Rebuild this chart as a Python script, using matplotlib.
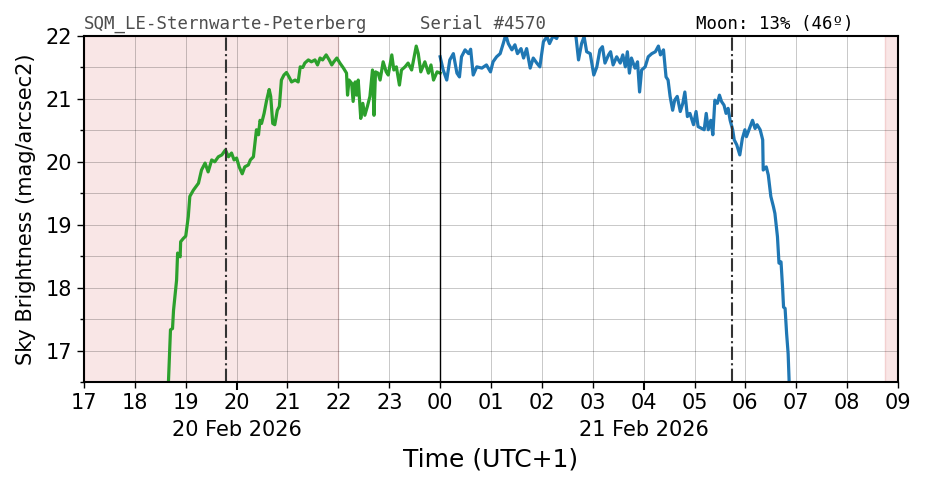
import matplotlib
matplotlib.use("Agg")
import matplotlib.pyplot as plt
from matplotlib.ticker import MultipleLocator, FixedLocator

# hours since 00:00 on 20 Feb (UTC+1)
green_t = [18.66, 18.70, 18.74, 18.76, 18.82, 18.84, 18.89, 18.90, 18.95, 19.00,
           19.05, 19.08, 19.15, 19.25, 19.31, 19.38, 19.44, 19.51, 19.57, 19.64,
           19.71, 19.78, 19.84, 19.90, 19.95, 20.00, 20.05, 20.11, 20.16, 20.23,
           20.27, 20.33, 20.39, 20.43, 20.46, 20.49, 20.54, 20.59, 20.64, 20.67,
           20.71, 20.75, 20.80, 20.84, 20.88, 20.93, 20.98, 21.03, 21.08, 21.15,
           21.21, 21.25, 21.30, 21.34, 21.41, 21.47, 21.54, 21.59, 21.64, 21.69,
           21.76, 21.82, 21.87, 21.91, 21.97, 22.03, 22.10, 22.16, 22.18, 22.21,
           22.26, 22.29, 22.33, 22.36, 22.39, 22.44, 22.48, 22.52, 22.57, 22.62,
           22.67, 22.70, 22.73, 22.78, 22.82, 22.88, 22.94, 22.98, 23.05, 23.09,
           23.14, 23.20, 23.24, 23.31, 23.37, 23.44, 23.53, 23.57, 23.62, 23.70,
           23.77, 23.82, 23.87, 23.94, 24.00]
green_m = [16.50, 17.33, 17.35, 17.64, 18.12, 18.55, 18.49, 18.73, 18.78, 18.82,
           19.13, 19.45, 19.55, 19.66, 19.87, 19.98, 19.84, 20.03, 20.00, 20.08,
           20.11, 20.19, 20.08, 20.14, 20.03, 20.06, 19.92, 19.81, 19.92, 19.95,
           20.03, 20.08, 20.51, 20.43, 20.66, 20.61, 20.77, 20.98, 21.15, 21.04,
           20.61, 20.59, 20.82, 20.88, 21.30, 21.38, 21.42, 21.35, 21.27, 21.30,
           21.27, 21.51, 21.50, 21.57, 21.62, 21.59, 21.62, 21.54, 21.65, 21.62,
           21.70, 21.62, 21.54, 21.59, 21.65, 21.57, 21.49, 21.41, 21.06, 21.30,
           21.25, 20.96, 21.27, 21.06, 21.30, 20.69, 20.93, 20.74, 20.88, 21.04,
           21.46, 20.74, 21.43, 21.41, 21.30, 21.59, 21.43, 21.38, 21.70, 21.46,
           21.51, 21.22, 21.46, 21.51, 21.57, 21.46, 21.84, 21.72, 21.43, 21.59,
           21.41, 21.54, 21.30, 21.43, 21.41]

blue_t = [24.00, 24.06, 24.13, 24.19, 24.26, 24.33, 24.38, 24.42, 24.49, 24.56,
          24.60, 24.65, 24.72, 24.82, 24.91, 24.99, 25.04, 25.11, 25.18, 25.24,
          25.29, 25.34, 25.41, 25.47, 25.52, 25.59, 25.64, 25.70, 25.77, 25.83,
          25.90, 25.96, 26.03, 26.10, 26.15, 26.22, 26.29, 26.35, 26.45, 26.55,
          26.62, 26.67, 26.72, 26.78, 26.83, 26.88, 26.95, 27.02, 27.08, 27.14,
          27.19, 27.24, 27.31, 27.35, 27.40, 27.47, 27.54, 27.59, 27.64, 27.68,
          27.72, 27.76, 27.83, 27.88, 27.92, 27.96, 28.03, 28.09, 28.16, 28.23,
          28.29, 28.33, 28.39, 28.44, 28.48, 28.52, 28.57, 28.61, 28.66, 28.72,
          28.77, 28.81, 28.86, 28.91, 28.98, 29.03, 29.07, 29.14, 29.19, 29.23,
          29.27, 29.32, 29.36, 29.40, 29.45, 29.49, 29.53, 29.58, 29.62, 29.66,
          29.70, 29.75, 29.78, 29.83, 29.89, 29.94, 29.99, 30.02, 30.08, 30.14,
          30.19, 30.23, 30.29, 30.34, 30.35, 30.41, 30.45, 30.50, 30.55, 30.58,
          30.63, 30.66, 30.70, 30.73, 30.75, 30.78, 30.81, 30.84, 30.86]
blue_m = [21.67, 21.46, 21.30, 21.62, 21.72, 21.41, 21.35, 21.67, 21.78, 21.72,
          21.79, 21.38, 21.51, 21.49, 21.54, 21.43, 21.59, 21.67, 21.72, 21.88,
          22.02, 21.88, 21.78, 21.86, 21.72, 21.80, 21.65, 21.80, 21.49, 21.65,
          21.57, 21.51, 21.91, 21.99, 21.88, 22.00, 21.96, 22.10, 22.15, 22.12,
          22.08, 21.99, 21.62, 21.88, 21.99, 21.75, 21.72, 21.38, 21.51, 21.78,
          21.83, 21.57, 21.70, 21.75, 21.54, 21.67, 21.57, 21.70, 21.51, 21.75,
          21.41, 21.65, 21.49, 21.59, 21.11, 21.46, 21.51, 21.67, 21.72, 21.75,
          21.84, 21.70, 21.78, 21.35, 21.30, 21.04, 20.82, 20.98, 21.04, 20.80,
          20.93, 21.11, 20.72, 20.77, 20.59, 20.80, 20.56, 20.53, 20.51, 20.77,
          20.51, 20.66, 20.43, 20.98, 20.93, 21.06, 20.96, 20.90, 20.77, 20.85,
          20.66, 20.51, 20.35, 20.27, 20.11, 20.37, 20.51, 20.40, 20.53, 20.66,
          20.53, 20.59, 20.51, 20.35, 19.87, 19.92, 19.79, 19.45, 19.29, 19.18,
          18.81, 18.39, 18.41, 18.01, 17.69, 17.67, 17.27, 16.95, 16.50]

twilight_spans = [(17.0, 22.0), (32.74, 33.0)]
moon_events = [19.79, 29.74]
hour_ticks = list(range(17, 34))
date_ticks = {20: "20 Feb 2026", 28: "21 Feb 2026"}

fig = plt.figure(figsize=(9.26, 4.88), dpi=100)
ax = fig.add_axes([0.0907, 0.2172, 0.8791, 0.709])

for a, b in twilight_spans:
    ax.axvspan(a, b, facecolor="#f9e6e6", edgecolor="#f3d0d0", lw=1)

ax.plot(green_t, green_m, color="#2ca02c", lw=2.3)
ax.plot(blue_t, blue_m, color="#1f77b4", lw=2.3)

for t in moon_events:
    ax.axvline(t, color="0.2", ls="-.", lw=1.5)
ax.axvline(24, color="k", lw=1)

ax.set_xlim(17, 33)
ax.set_ylim(16.5, 22)

major = sorted(date_ticks)
minor = [h for h in hour_ticks if h not in date_ticks]
ax.xaxis.set_major_locator(FixedLocator(major))
ax.xaxis.set_minor_locator(FixedLocator(minor))
ax.set_xticklabels(["%02d" % (h % 24) for h in major])
ax.set_xticklabels(["%02d" % (h % 24) for h in minor], minor=True)
ax.yaxis.set_major_locator(MultipleLocator(1))
ax.yaxis.set_minor_locator(MultipleLocator(0.5))

ax.tick_params(axis="both", which="both", labelsize=15, direction="out")
ax.tick_params(axis="x", which="major", length=6, width=1.5, pad=2)
ax.tick_params(axis="x", which="minor", length=4, width=1, pad=4)
ax.tick_params(axis="y", which="major", length=5, width=1)
ax.tick_params(axis="y", which="minor", length=3, width=1)

for h, lab in date_ticks.items():
    ax.annotate(lab, xy=(h, 0), xycoords=("data", "axes fraction"),
                xytext=(0, -27), textcoords="offset points",
                ha="center", va="top", fontsize=15)

ax.grid(True, which="both", color="k", alpha=0.25, lw=0.6)
for s in ax.spines.values():
    s.set_linewidth(1.5)

ax.set_ylabel("Sky Brightness (mag/arcsec2)", fontsize=15, labelpad=7)
ax.set_xlabel("Time (UTC+1)", fontsize=18, labelpad=25)

ax.text(0.0, 1.02, "SQM_LE-Sternwarte-Peterberg", transform=ax.transAxes,
        family="DejaVu Sans Mono", fontsize=12.5, color="0.3")
ax.text(0.413, 1.02, "Serial #4570", transform=ax.transAxes,
        family="DejaVu Sans Mono", fontsize=12.5, color="0.3")
ax.text(0.752, 1.02, "Moon: 13% (46º)", transform=ax.transAxes,
        family="DejaVu Sans Mono", fontsize=12.5, color="k")

fig.savefig("out.png", dpi=100)
